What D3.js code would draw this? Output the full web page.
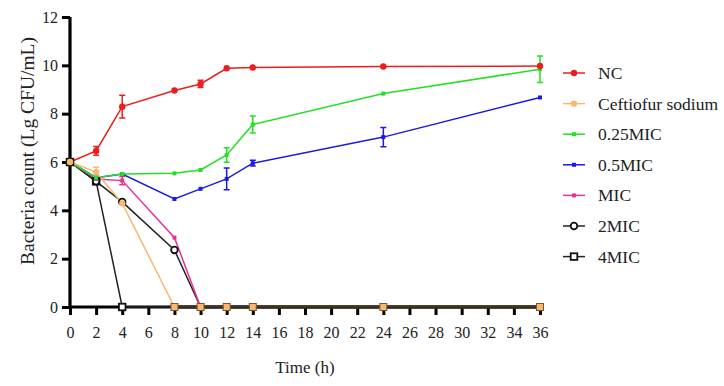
<!DOCTYPE html>
<html><head><meta charset="utf-8">
<script src="https://cdn.jsdelivr.net/npm/d3@7"></script>
<style>body{margin:0;background:#fff}svg{display:block}</style>
</head><body><svg id="c" width="724" height="386"></svg>
<script>
const times = [0, 2, 4, 8, 10, 12, 14, 24, 36];
const xTicks = d3.range(0, 37, 2);
const yTicks = [0, 2, 4, 6, 8, 10, 12];
const seriesNames = ["NC", "Ceftiofur sodium", "0.25MIC", "0.5MIC", "MIC", "2MIC", "4MIC"];
const seriesColors = ["#ee1c1c", "#f7b870", "#22e022", "#1a1ae0", "#e8309a", "#222222", "#222222"];
const seriesMarkers = ["dot", "dot", "small", "small", "small", "circle", "square"];
const ncValues   = [6.0, 6.46, 8.29, 8.96, 9.23, 9.88, 9.91, 9.95, 9.97];
const ncErr      = [0, 0.18, 0.47, 0.05, 0.15, 0.05, 0.04, 0.03, 0.05];
const ceftValues = [6.0, 5.58, 4.29, 0, 0, 0, 0, 0, 0];
const ceftErr    = [0, 0.2, 0.06, 0, 0, 0, 0, 0, 0];
const q25Values  = [6.0, 5.35, 5.5, 5.53, 5.67, 6.29, 7.55, 8.83, 9.84];
const q25Err     = [0, 0.05, 0.05, 0.04, 0.05, 0.3, 0.35, 0.04, 0.55];
const h5Values   = [6.0, 5.35, 5.5, 4.47, 4.89, 5.3, 5.95, 7.03, 8.67];
const h5Err      = [0, 0.05, 0.06, 0.04, 0.05, 0.45, 0.12, 0.4, 0.05];
const micValues  = [6.0, 5.3, 5.23, 2.87, 0, 0, 0, 0, 0];
const micErr     = [0, 0.05, 0.17, 0.05, 0, 0, 0, 0, 0];
const mic2Values = [6.0, 5.2, 4.35, 2.36, 0, 0, 0, 0, 0];
const mic4Values = [6.0, 5.2, 0, 0, 0, 0, 0, 0, 0];
const allValues = [ncValues, ceftValues, q25Values, h5Values, micValues, mic2Values, mic4Values];
const allErr = [ncErr, ceftErr, q25Err, h5Err, micErr, null, null];

const FONT = "Liberation Serif";
const svg = d3.select("#c");
const x = d3.scaleLinear().domain([0, 36]).range([70, 540]);
const y = d3.scaleLinear().domain([0, 12]).range([307, 17]);

function styleText(sel, size) {
  return sel.attr("font-family", FONT).style("font-family", `"${FONT}"`).style("font-size", size + "px").attr("fill", "#222");
}

const gx = svg.append("g").attr("transform", `translate(0,${y(0)})`)
  .call(d3.axisBottom(x).tickValues(xTicks).tickSize(8).tickPadding(12).tickSizeOuter(0));
const gy = svg.append("g").attr("transform", `translate(${x(0)},0)`)
  .call(d3.axisLeft(y).tickValues(yTicks).tickSize(8).tickPadding(4).tickSizeOuter(0));
[gx, gy].forEach(g => {
  g.attr("font-family", FONT);
  g.select(".domain").attr("stroke", "#000").attr("stroke-width", 3.2);
  g.selectAll(".tick line").attr("stroke", "#000").attr("stroke-width", 3);
  styleText(g.selectAll(".tick text"), 16);
});
gx.select(".domain").attr("d", `M${x(0)-1.5},0H${x(36)}`);
gy.select(".domain").attr("d", `M0,${y(12)}V${y(0)+1.5}`);

styleText(svg.append("text"), 17).attr("x", x(18)).attr("y", 373).attr("text-anchor", "middle").text("Time (h)");
styleText(svg.append("text"), 19.5).attr("transform", `translate(34,151) rotate(-90)`)
  .attr("text-anchor", "middle").text("Bacteria count (Lg CFU/mL)");

const line = d3.line().x((d, i) => x(times[i])).y(d => y(d));
const drawOrder = [6, 5, 4, 3, 2, 0, 1];

function marker(g, type, color, cx, cy) {
  if (type === "dot") g.append("circle").attr("cx", cx).attr("cy", cy).attr("r", 3.2).attr("fill", color);
  else if (type === "small") g.append("rect").attr("x", cx - 2).attr("y", cy - 2).attr("width", 4).attr("height", 4).attr("fill", color);
  else if (type === "circle") g.append("circle").attr("cx", cx).attr("cy", cy).attr("r", 3.3).attr("fill", "#fff").attr("stroke", "#111").attr("stroke-width", 1.8);
  else if (type === "square") g.append("rect").attr("x", cx - 3.3).attr("y", cy - 3.3).attr("width", 6.6).attr("height", 6.6).attr("fill", "#fff").attr("stroke", "#111").attr("stroke-width", 1.8);
}

drawOrder.forEach(si => {
  const vals = allValues[si], errs = allErr[si], col = seriesColors[si];
  const g = svg.append("g");
  g.append("path").datum(vals).attr("d", line).attr("fill", "none").attr("stroke", col).attr("stroke-width", 1.5);
  if (errs) vals.forEach((v, i) => {
    if (errs[i] < 0.1) return;
    const cx = x(times[i]);
    g.append("path").attr("d", `M${cx},${y(v+errs[i])}V${y(v-errs[i])}M${cx-3},${y(v+errs[i])}H${cx+3}M${cx-3},${y(v-errs[i])}H${cx+3}`)
      .attr("stroke", col).attr("stroke-width", 1.5).attr("fill", "none");
  });
});
const ceftZero = ceftValues.map((v, i) => ({t: times[i], v})).filter(d => d.v === 0);
svg.append("path").datum(ceftZero).attr("d", d3.line().x(d => x(d.t)).y(d => y(d.v)))
  .attr("stroke", "#3e2f20").attr("stroke-width", 3.4).attr("fill", "none");

drawOrder.forEach(si => {
  const vals = allValues[si], col = seriesColors[si];
  const g = svg.append("g");
  vals.forEach((v, i) => {
    if (si === 1 && v === 0) return;
    if ((si === 4 || si === 5) && v === 0) return;
    if (si === 6 && v === 0 && times[i] > 4) return;
    marker(g, seriesMarkers[si], col, x(times[i]), y(v));
  });
});
const gz = svg.append("g");
ceftZero.forEach(d => {
  gz.append("rect").attr("x", x(d.t) - 3.5).attr("y", y(0) - 3.5).attr("width", 7).attr("height", 7)
    .attr("fill", "#f7b870").attr("stroke", "#7a5530").attr("stroke-width", 1);
});

const lg = svg.append("g");
seriesNames.forEach((name, i) => {
  const ly = 73 + i * 30.6;
  lg.append("line").attr("x1", 563).attr("x2", 585).attr("y1", ly).attr("y2", ly)
    .attr("stroke", seriesColors[i]).attr("stroke-width", 1.5);
  marker(lg, seriesMarkers[i], seriesColors[i], 574, ly);
  styleText(lg.append("text"), 17.5).attr("x", 598).attr("y", ly + 6).text(name);
});
</script></body></html>
